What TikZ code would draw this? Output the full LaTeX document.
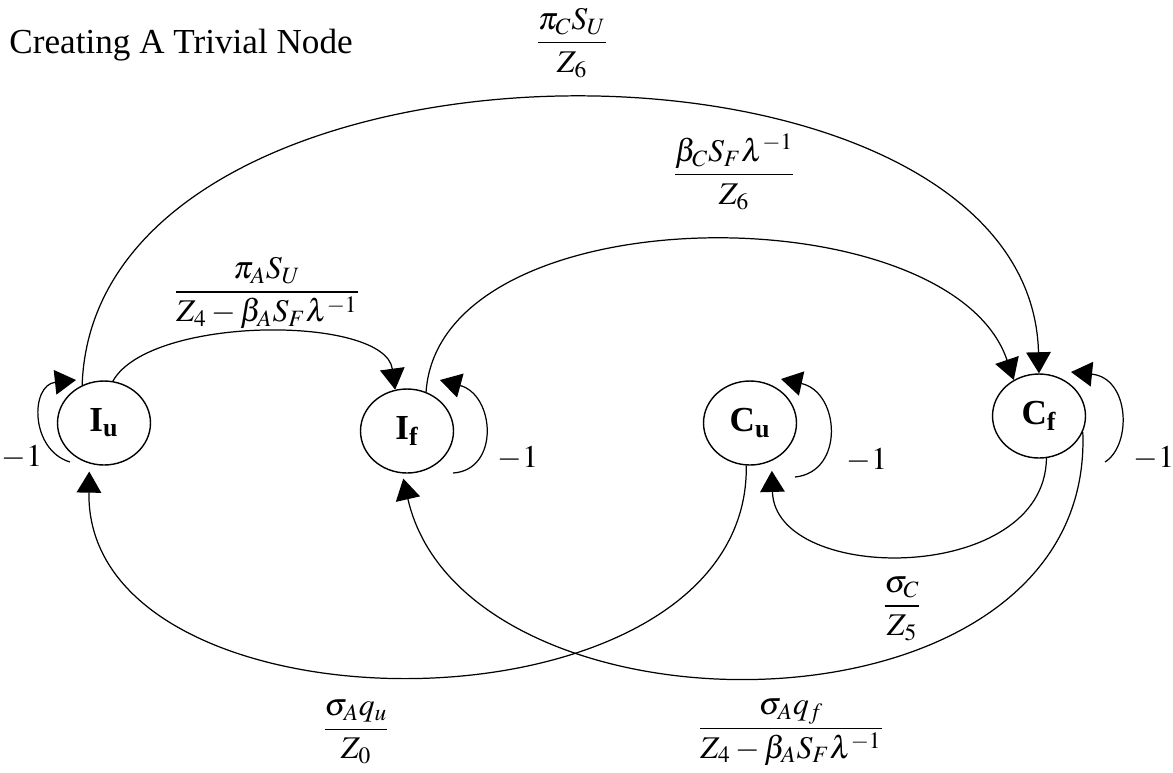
\documentclass[tikz,border=0pt]{standalone}
\usepackage{amsmath}
\usepackage{mathptmx}
\usepackage{fontspec}
\setmainfont{Liberation Serif}
\usetikzlibrary{arrows.meta, shapes.geometric}

\begin{document}
\begin{tikzpicture}[x=0.02cm, y=-0.02cm, line width=0.7pt,
    every node/.style={font=\fontsize{18}{22}\selectfont},
    state/.style={draw, ellipse, line width=0.8pt, minimum width=1.86cm,
      minimum height=1.68cm, inner sep=0pt, font=\fontsize{20}{24}\selectfont\bfseries},
    arr/.style={-{Triangle[length=12pt, width=14pt]}}]
  \useasboundingbox (0,0) rectangle (1173,772);
  % title
  \node[anchor=west, font=\fontsize{20}{24}\selectfont] (title) at (3,45) {Creating A Trivial Node};
  % states
  \node[state] (Iu) at (104,423) {I\textsubscript{u}};
  \node[state] (If) at (407,431) {I\textsubscript{f}};
  \node[state] (Cu) at (750,423) {C\textsubscript{u}};
  \node[state] (Cf) at (1039,416) {C\textsubscript{f}};
  % self loops
  \draw[arr] ([shift={(-34,39)}]Iu.center) .. controls +(-40,-12) and +(-46,5) .. ([shift={(-28,-43)}]Iu.center);
  \draw[arr] ([shift={(46,42)}]If.center) .. controls +(47,-3) and +(55,15) .. ([shift={(33,-51)}]If.center);
  \draw[arr] ([shift={(45,54)}]Cu.center) .. controls +(50,-5) and +(59,13) .. ([shift={(31,-44)}]Cu.center);
  \draw[arr] ([shift={(66,46)}]Cf.center) .. controls +(27,-17) and +(59,6) .. ([shift={(32,-44)}]Cf.center);
  \node (m1) at (22,457) {$-1$};
  \node (m2) at (518,458) {$-1$};
  \node (m3) at (867,460) {$-1$};
  \node (m4) at (1154,458) {$-1$};
  % upper arcs
  \draw[arr] (Iu.120) .. controls (95,5) and (1030,5) .. (Cf.90);
  \draw[arr] (Iu.78) .. controls (150,315) and (385,315) .. (If.106);
  \draw[arr] (If.64) .. controls (440,192) and (950,192) .. (Cf.125);
  % lower arcs
  \draw[arr] (Cu.265) .. controls (750,745) and (85,745) .. ([shift={(0,8)}]Iu.250);
  \draw[arr] (Cf.-20) .. controls (1095,750) and (465,750) .. ([shift={(0,5)}]If.265);
  \draw[arr] (Cf.-80) .. controls (1045,585) and (775,585) .. ([shift={(0,10)}]Cu.-60);
  % rates
  \node (piC) at (572,43) {$\dfrac{\pi_C S_U}{Z_6}$};
  \node (piA) at (267,293) {$\dfrac{\pi_A S_U}{Z_4-\beta_A S_F\lambda^{-1}}$};
  \node (betaC) at (734,172) {$\dfrac{\beta_C S_F\lambda^{-1}}{Z_6}$};
  \node (sigC) at (902,609) {$\dfrac{\sigma_C}{Z_5}$};
  \node (sigu) at (356,732) {$\dfrac{\sigma_A q_u}{Z_0}$};
  \node (sigf) at (791,732) {$\dfrac{\sigma_A q_f}{Z_4-\beta_A S_F\lambda^{-1}}$};
\end{tikzpicture}
\end{document}
